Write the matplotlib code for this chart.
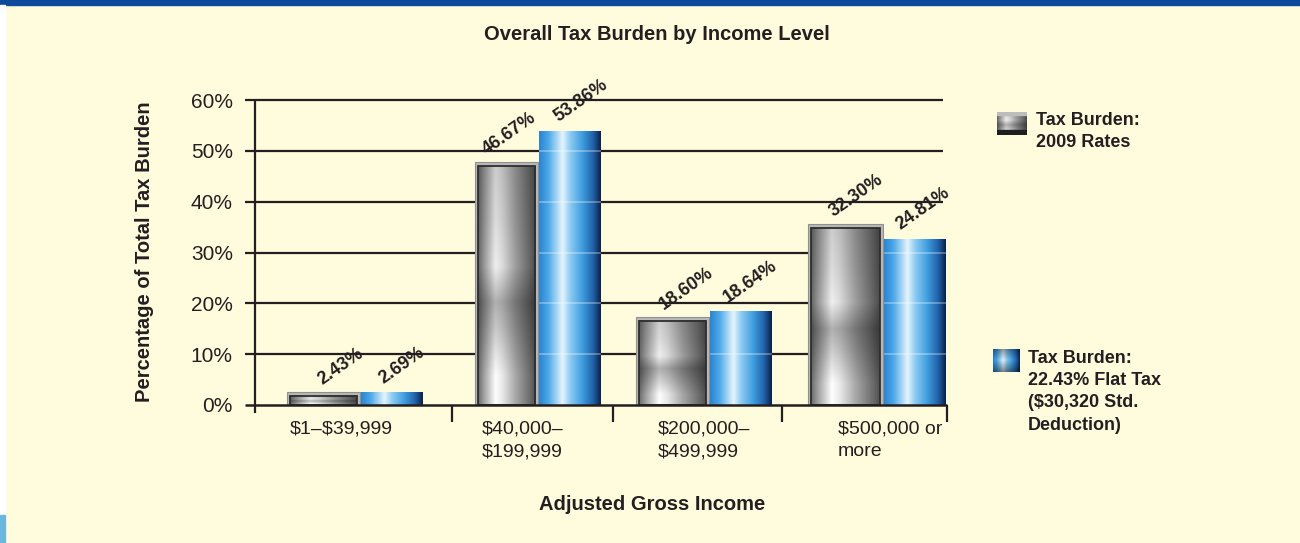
import numpy as np
import matplotlib
matplotlib.use("Agg")
import matplotlib.pyplot as plt
from matplotlib.patches import Rectangle

plt.rcParams['font.family'] = ['Liberation Sans', 'DejaVu Sans']

# data
categories = ["$1–$39,999", "$40,000–\n$199,999", "$200,000–\n$499,999", "$500,000 or\nmore"]
burden_2009 = [2.6, 47.8, 17.4, 35.6]      # bar heights as drawn (%)
burden_flat = [2.4, 53.9, 18.3, 32.6]
labels_2009 = ["2.43%", "46.67%", "18.60%", "32.30%"]
labels_flat = ["2.69%", "53.86%", "18.64%", "24.81%"]
y_ticks = [0, 10, 20, 30, 40, 50, 60]
legend_2009 = "Tax Burden:\n2009 Rates"
legend_flat = "Tax Burden:\n22.43% Flat Tax\n($30,320 Std.\nDeduction)"
title = "Overall Tax Burden by Income Level"
xlabel = "Adjusted Gross Income"
ylabel = "Percentage of Total Tax Burden"

W, H = 1300, 543
BG = "#fffbdd"
INK = "#231f20"

# layout (x in pixel units)
group_left = [287, 475, 636, 808]
gray_w = [73, 63, 73, 75]
blue_w = 63
x_ticks = [452, 613, 782, 947]
label_left = [290, 482, 658, 838]
lab_dx_gray = [35, 12, 28, 26]
lab_dx_blue = [22, 19, 18, 16]


def fx(x):
    return x / W


def fy(y):
    return 1 - y / H


fig = plt.figure(figsize=(W / 100, H / 100), dpi=100, facecolor=BG)

# page decorations
fig.patches.append(Rectangle((0, fy(5)), 1, 5 / H, transform=fig.transFigure,
                             color="#0d4a9c", zorder=0))
fig.patches.append(Rectangle((0, fy(515)), 5 / W, 510 / H, transform=fig.transFigure,
                             color="white", zorder=0))
fig.patches.append(Rectangle((0, 0), 5 / W, 28 / H, transform=fig.transFigure,
                             color="#6cb8dd", zorder=0))

ax = fig.add_axes([fx(255), fy(405), (947 - 255) / W, (405 - 100) / H])
ax.patch.set_alpha(0)
for s in ax.spines.values():
    s.set_visible(False)
py = 60 / 305.0  # data units per pixel on y

# textures
u = np.linspace(0, 1, 80)
hg = np.interp(u, [0, .08, .3, .42, .65, .88, 1], [.40, .56, .94, .86, .62, .42, .30])
v = np.linspace(0, 1, 160)
vg = np.interp(v, [0, .12, .32, .43, .58, .78, 1], [1.06, 1.06, .84, .74, 1.0, .92, .86])
gray = np.clip(np.outer(vg, hg), 0, 1)
gray_img = np.dstack([gray] * 3)

bu = [0, .15, .38, .5, .7, .88, 1]
bc = np.array([[.17, .52, .82], [.30, .66, .91], [.90, .96, .99], [.56, .80, .95],
               [.25, .62, .88], [.13, .38, .66], [.04, .13, .30]])
blue_img = np.stack([np.interp(u, bu, bc[:, k]) for k in range(3)], axis=-1)[None, :, :]

# grid + axes
ax.hlines(y_ticks[1:], 245, 943, color=INK, lw=1.6, clip_on=False, zorder=1)
ax.hlines(0, 245, 947, color=INK, lw=1.8, clip_on=False, zorder=6)
ax.vlines(255, -8 * py, 60, color=INK, lw=1.6, clip_on=False, zorder=6)
ax.vlines(x_ticks, -17 * py, 0, color=INK, lw=1.6, clip_on=False, zorder=6)

for i in range(len(categories)):
    x0, w, top = group_left[i], gray_w[i], burden_2009[i]
    ax.bar(x0, top, width=w, align='edge', color='#b8b8b8', edgecolor='#909090',
           lw=0.8, zorder=2)
    ax.imshow(gray_img, extent=(x0 + 3, x0 + w - 3, 0, top - 4 * py), origin='lower',
              aspect='auto', interpolation='bicubic', zorder=3)
    ax.add_patch(Rectangle((x0 + 3, 0), w - 6, top - 4 * py, fill=False,
                           edgecolor='#2e2e2e', lw=1.3, zorder=4))

    bx, btop = x0 + w + 1, burden_flat[i]
    ax.imshow(blue_img, extent=(bx, bx + blue_w - 1, 0, btop), origin='lower',
              aspect='auto', interpolation='bicubic', zorder=3)
    inner = [t for t in y_ticks[1:] if t < btop - 1]
    if inner:
        ax.hlines(inner, bx, bx + blue_w - 1, color='white', alpha=0.3, lw=1.4, zorder=4)

    ax.annotate(labels_2009[i], (x0 + lab_dx_gray[i], top), xytext=(0, 7),
                textcoords='offset pixels', rotation=35, rotation_mode='anchor',
                ha='left', va='baseline', fontsize=13, fontweight='bold', color=INK,
                zorder=7)
    ax.annotate(labels_flat[i], (bx + lab_dx_blue[i], btop), xytext=(0, 9),
                textcoords='offset pixels', rotation=35, rotation_mode='anchor',
                ha='left', va='baseline', fontsize=13, fontweight='bold', color=INK,
                zorder=7)

    ax.text(label_left[i], -16 * py, categories[i], ha='left', va='top', fontsize=14,
            color=INK, linespacing=1.4, parse_math=False)

ax.set_xlim(255, 947)
ax.set_ylim(0, 60)
ax.set_xticks([])
ax.set_yticks(y_ticks)
ax.set_yticklabels([f"{t}%" for t in y_ticks], fontsize=15, color=INK)
ax.tick_params(axis='y', length=0, pad=16)

# titles
fig.text(fx(657), fy(35), title, ha='center', va='center', fontsize=14.5,
         fontweight='bold', color=INK)
fig.text(fx(652), fy(505), xlabel, ha='center', va='center', fontsize=14.5,
         fontweight='bold', color=INK)
fig.text(fx(145), fy(252), ylabel, ha='center', va='center', rotation=90,
         fontsize=14.5, fontweight='bold', color=INK)

# legend swatches
sw1 = fig.add_axes([fx(997), fy(135), 30 / W, 23 / H])
sw1.imshow(gray_img[40:120], aspect='auto', origin='lower', extent=(0, 1, 0.2, 0.85))
sw1.add_patch(Rectangle((0, 0.85), 1, 0.15, color='#bdbdbd'))
sw1.add_patch(Rectangle((0, 0), 1, 0.2, color='#1e1e1e'))
sw1.set_xlim(0, 1)
sw1.set_ylim(0, 1)
sw1.axis('off')

sw2 = fig.add_axes([fx(993), fy(372), 27 / W, 23 / H])
vb = np.interp(np.linspace(0, 1, 40), [0, .5, 1], [.55, 1.0, .6])
sw2.imshow(np.clip(blue_img * vb[:, None, None], 0, 1),
           aspect='auto', origin='lower', extent=(0, 1, 0, 1), interpolation='bicubic')
sw2.axis('off')

fig.text(fx(1036), fy(112), legend_2009, ha='left', va='top', fontsize=13,
         fontweight='bold', color=INK, linespacing=1.4)
fig.text(fx(1028), fy(350), legend_flat, ha='left', va='top', fontsize=13,
         fontweight='bold', color=INK, linespacing=1.4)

fig.savefig("out.png", dpi=100, facecolor=BG)
